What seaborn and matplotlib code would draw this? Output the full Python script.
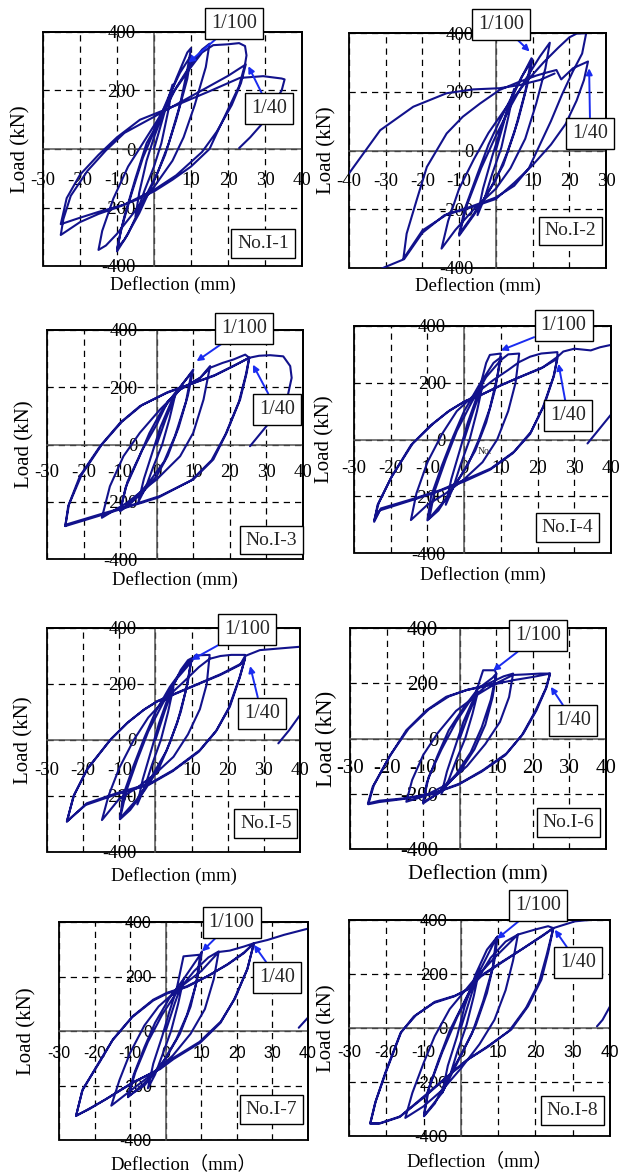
import matplotlib
matplotlib.use("Agg")
import matplotlib.pyplot as plt
import pandas as pd
import seaborn as sns

sns.set_theme(style="white")
plt.rcParams["font.family"] = ["Liberation Serif", "Noto Sans CJK JP", "DejaVu Sans"]
plt.rcParams["axes.unicode_minus"] = False

# ---------------- data (deflection mm, load kN) ----------------
Y_TICKS = [-400, -200, 0, 200, 400]
X_TICKS_A = [-30, -20, -10, 0, 10, 20, 30, 40]
X_TICKS_B = [-40, -30, -20, -10, 0, 10, 20, 30]

P1 = [(0,0),(2.5,110),(5,220),(4,140),(2,20),(0,-60),(-2.5,-140),(-5,-230),(-4,-150),(-2,-40),(0,40),
      (3,140),(6,240),(9,330),(10,345),(9,270),(7,150),(4,20),(1,-80),(-3,-180),(-7,-290),(-10,-350),(-9,-280),(-6,-150),(-3,-30),(0,60),
      (4,180),(7,260),(10,320),(9,240),(6,100),(3,-20),(0,-110),(-4,-220),(-8,-310),(-10,-340),(-8,-230),(-5,-100),(-2,20),
      (2,110),(6,210),(10,290),(13,340),(15,360),(14,280),(11,150),(8,40),(5,-40),(0,-130),(-5,-210),(-10,-290),(-13,-330),(-15,-345),(-14,-280),(-11,-170),(-7,-60),(-3,20),(1,100),
      (5,190),(10,280),(13,330),(16,355),(20,358),(23,362),(24.6,352),(25,320),(24.6,289),(23,215),(20,135),(17,55),(15,0),(10,-60),(5,-105),(0,-145),(-5,-175),(-10,-200),(-15,-222),(-20,-250),(-25.2,-294),
      (-24.5,-240),(-22.5,-160),(-18,-75),(-13,-5),(-8,55),(0,110),(10,180),(20,250),(24.8,289),
      (23.5,225),(21,150),(17,60),(13,-10),(6,-90),(0,-140),(-8,-190),(-15,-215),(-20,-235),(-25.2,-257),
      (-23.6,-168),(-20,-88),(-15,-20),(-10,40),(-3.8,100),(6.1,150),(15.1,198),(23.2,243),(29.5,249),(34.5,241),(35.3,238),(34.5,200),(32,150),(29,83),(26,40),(23,3)]

P2 = [(0,0),(2.5,110),(5,210),(3.5,120),(1.5,10),(-1,-80),(-3,-160),(-5,-220),(-3.5,-130),(-1,-20),(1,60),
      (4,170),(7,250),(10,310),(8.5,220),(6,100),(3,-10),(0,-100),(-4,-180),(-8,-250),(-10,-285),(-8.5,-200),(-5,-80),(-2,20),(1,100),
      (5,200),(9.7,314),(8,200),(5,60),(2,-50),(-2,-140),(-6,-220),(-10,-290),(-8,-190),(-4,-60),(0,50),
      (4,150),(8,240),(12,320),(14.7,367),(13.5,280),(11,160),(8,40),(4,-60),(0,-130),(-6,-200),(-11,-270),(-14.8,-334),(-13,-240),(-10,-130),(-6,-30),(-2,60),(3,150),
      (8,230),(13,300),(17,350),(20,385),(22,398),(24.6,399),(23.5,330),(21,270),(18,190),(15,100),(12,20),(9,-60),(5,-120),(0,-160),(-7,-192),(-13,-215),(-20,-272),(-25.2,-369),
      (-24.3,-283),(-21.6,-170),(-18.8,-56),(-13.4,58),(-9,115),(-4.3,160),(1,206),(6,232),(11,255),(14,266),(16.5,274),(17.8,242),(21,280),(25.1,303),
      (24,240),(22,170),(19,90),(15,20),(10,-50),(5,-110),(0,-165),(-7,-195),(-14,-220),(-20,-280),(-25,-370),(-30.2,-397),(-36,-430),(-42,-450),(-42,-100),
      (-40,-78),(-31.5,69),(-22.5,149),(-13.4,195),(-6.2,208),(1,212),(6.5,223),(12,240),(16,262)]

P3 = [(0,0),(2.5,90),(5,170),(3.5,90),(1.5,0),(-1,-80),(-3,-150),(-5,-200),(-3.5,-120),(-1,-20),(1,60),
      (4,150),(7,210),(10,262),(8.5,170),(6,60),(3,-40),(0,-110),(-4,-170),(-8,-215),(-10,-233),(-8.5,-150),(-5,-50),(-2,40),(1,110),
      (5,180),(9.5,250),(8,150),(5,30),(2,-60),(-2,-130),(-6,-190),(-10,-230),(-8,-130),(-4,-20),(0,70),
      (3,150),(6.4,192),(11.9,233),(14.6,274),(12.8,157),(10,41),(6.4,-41),(0,-122),(-8.2,-204),(-15,-256),(-12.8,-146),(-9.1,-41),(-4.6,41),(0.9,122),(6.4,192),(11.9,233),(14.6,268),
      (18,285),(21,297),(24.2,314),(25.3,303),(24.6,250),(22.8,157),(19.1,41),(15.5,-52),(10,-122),(0.9,-180),(-6.4,-210),(-15.5,-244),(-24.6,-279),(-25,-285),
      (-24.2,-215),(-21,-110),(-15.5,-6),(-10,76),(-4.6,134),(2.7,180),(8.2,206),(15.5,239),(21,274),(25.3,303),
      (24.3,240),(22.5,150),(18.8,35),(15,-55),(9.5,-125),(0.5,-185),(-7,-215),(-16,-250),(-25,-285),
      (-24,-210),(-20.5,-105),(-15,0),(-9.5,80),(-4,138),(3,183),(9,210),(16,243),(21.5,278),(25.3,303),(28,310),(31,312),(34.6,308),(36.5,274),(36.9,233),(35.6,157),(30,64),(25.5,-6)]

P4 = [(0,0),(2.5,100),(5,190),(3.5,100),(1.5,0),(-1,-90),(-3,-170),(-5,-230),(-3.5,-140),(-1,-30),(1,60),
      (4,170),(6,270),(7,298),(10,303),(9,220),(7,110),(4,0),(1,-90),(-3,-170),(-7,-250),(-10,-285),(-9,-200),(-6,-90),(-3,10),(0,100),(4,190),(8,270),(10,290),
      (8.5,180),(6,60),(3,-40),(-1,-130),(-5,-210),(-9.5,-278),(-8,-180),(-5,-70),(-2,30),(2,130),
      (6,220),(10,280),(12,300),(15,303),(14,200),(12,100),(9,0),(5,-80),(0,-140),(-5,-190),(-10,-230),(-14.5,-284),(-13,-190),(-10,-80),(-6,20),(-2,100),(3,160),(8,210),(12,245),(15,273),
      (18,292),(21,303),(25.4,308),(25.4,291),(24.5,226),(21.8,121),(18.2,27),(13.6,-43),(7.3,-102),(0,-143),(-6.4,-178),(-13.6,-208),(-22.7,-243),(-24.5,-290),
      (-23.6,-231),(-20,-137),(-14.5,-20),(-9.1,50),(-4.5,97),(0,133),(4.5,156),(10,191),(15.4,221),(20.9,250),(25.4,285),
      (24.3,220),(21.5,115),(18,20),(13.3,-48),(7,-107),(0,-148),(-7,-183),(-14,-213),(-23,-250),(-24.5,-285),
      (-23.3,-225),(-19.7,-130),(-14,-14),(-8.5,55),(-4,102),(0.5,137),(5,160),(10.5,194),(16,225),(21.5,255),(25.4,291),(27,310),(30,320),(34.5,314),(37,325),(40.2,334),(41,336)]
P4_TAIL = [(33.6,-14),(37,40),(40.2,91),(41,100)]

P5 = [(0,0),(2.5,100),(5,190),(3.5,100),(1.5,0),(-1,-90),(-3,-170),(-5,-230),(-3.5,-140),(-1,-30),(1,60),
      (4,170),(7,250),(9,285),(10,292),(9,210),(7,100),(4,-10),(1,-100),(-3,-180),(-7,-250),(-9.8,-283),(-9,-200),(-6,-90),(-3,10),(0,100),(4,190),(8,260),(10,290),
      (8.5,180),(6,60),(3,-40),(-1,-130),(-5,-210),(-9.8,-280),(-8,-180),(-5,-70),(-2,30),(2,130),
      (6,220),(10,280),(11,302),(15,304),(14.2,200),(12.3,110),(9,20),(5,-60),(0,-120),(-5,-170),(-10,-210),(-14.8,-286),(-13,-200),(-10,-100),(-6,0),(-2,80),(3,150),(8,210),(12,260),(15,290),
      (18,300),(21,304),(24.8,304),(24.8,292),(23.4,226),(20.6,119),(17,36),(12.3,-36),(5,-107),(-1.5,-155),(-10.7,-190),(-19,-226),(-24.5,-292),
      (-22.7,-202),(-19,-107),(-12.5,0),(-7.9,60),(-3.3,107),(0.4,137),(5.9,167),(12.3,202),(17.9,232),(23.4,268),(24.8,292),
      (23.2,220),(20.3,115),(16.7,30),(12,-42),(4.7,-112),(-1.8,-160),(-11,-195),(-19.3,-232),(-24.5,-290),
      (-22.5,-196),(-18.7,-100),(-12.2,5),(-7.5,64),(-3,110),(0.7,140),(6.2,170),(12.6,205),(18.2,236),(23.6,272),(24.8,300),(28.9,321),(34.4,327),(40,333),(41,334)]
P5_TAIL = [(34,-12),(37,35),(40,89),(41,100)]

P6 = [(0,0),(2.5,90),(5,170),(3.5,90),(1.5,0),(-1,-80),(-3,-150),(-5,-200),(-3.5,-120),(-1,-20),(1,60),
      (4,150),(6.4,247),(9.6,247),(10,235),(9,150),(7,50),(4,-40),(0,-120),(-5,-190),(-10,-235),(-9,-160),(-6,-60),(-3,30),(1,110),(5,180),(9,220),(10,235),
      (8.5,140),(6,40),(3,-50),(-1,-130),(-6,-200),(-10,-230),(-8.5,-140),(-5,-40),(-1,60),(3,140),
      (8,200),(12,225),(14.6,235),(13.5,150),(11,60),(7,-20),(2,-100),(-4,-170),(-10,-210),(-14.6,-229),(-13,-150),(-10,-60),(-6,20),(-1,100),(5,160),(10,200),(14.6,230),
      (18,232),(22,235),(24.7,235),(23.8,187),(21,102),(17.4,18),(12.8,-54),(6.4,-114),(0,-163),(-7.3,-199),(-15.5,-217),(-21.9,-225),(-25.1,-235),
      (-23.8,-175),(-19.2,-66),(-14.6,30),(-9.1,102),(-3.7,151),(1.8,175),(8.2,193),(14.6,211),(20.1,223),(24.7,235),
      (23.5,180),(20.5,95),(17,12),(12.5,-60),(6,-120),(-0.5,-168),(-8,-203),(-16,-220),(-22,-230),(-25,-238),
      (-23.5,-170),(-19,-60),(-14,35),(-8.5,105),(-3,152),(2,176),(8,195),(12,205)]

P7 = [(0,0),(2.5,100),(5,190),(3.5,100),(1.5,0),(-1,-90),(-3,-160),(-5,-210),(-3.5,-120),(-1,-20),(1,70),
      (3,150),(5,274),(9.7,280),(10.2,292),(9,200),(7,90),(4,-10),(0,-100),(-5,-180),(-10.6,-243),(-9,-160),(-6,-60),(-3,30),(1,120),(5,190),(9.7,280),
      (8.5,170),(6,60),(3,-30),(-1,-120),(-6,-200),(-10.6,-240),(-8.5,-150),(-5,-40),(-1,60),(3,140),
      (8,220),(12,270),(14.9,292),(13.5,190),(11,80),(7,-10),(2,-90),(-4,-160),(-10,-220),(-15.3,-274),(-13,-180),(-10,-80),(-6,20),(-2,90),(4,160),(10,220),(14.9,290),
      (18,295),(22,310),(24.8,322),(22.9,225),(19.2,115),(15.4,30),(9.7,-43),(2.2,-103),(-1.6,-140),(-9.2,-188),(-16.7,-249),(-21.4,-286),(-25.2,-310),
      (-23.3,-213),(-18.6,-115),(-14.8,-30),(-9.2,55),(-3.5,115),(0.3,140),(5.9,164),(11.6,200),(17.3,243),(22,286),(24.8,322),
      (23,230),(19.5,120),(15.5,35),(9.5,-40),(2,-100),(-2,-140),(-9.5,-192),(-17,-252),(-25.2,-312),
      (-23.5,-220),(-19,-120),(-15,-35),(-9.5,50),(-3.5,112),(0.5,138),(6,162),(12,203),(17.5,246),(22,288),(24.8,322),(28.6,334),(33.3,353),(40.4,377),(41,378)]
P7_TAIL = [(37.4,12),(40.4,55),(41,62)]

P8 = [(0,0),(2.5,110),(5,220),(3.5,120),(1.5,10),(-1,-90),(-3,-180),(-5,-240),(-3.5,-140),(-1,-30),(1,80),
      (4,200),(7,290),(9.5,333),(9.9,340),(9,250),(7,130),(4,10),(0,-100),(-4,-200),(-7,-280),(-9.9,-327),(-9,-240),(-6,-120),(-3,-10),(1,100),(5,210),(9.5,333),
      (8.5,220),(6,100),(3,-20),(-1,-130),(-5,-240),(-9.9,-325),(-8.5,-220),(-5,-90),(-1,40),(3,150),
      (8,260),(12,320),(15.3,346),(14,250),(12,140),(9,30),(5,-60),(0,-150),(-5,-230),(-10,-290),(-14.9,-333),(-13,-240),(-10,-130),(-7,-30),(-3,70),(3,170),(9,260),(15.3,346),
      (20,365),(23.4,377),(24.8,370),(23.4,278),(21.6,179),(18,80),(13.5,-6),(7.2,-68),(1.8,-117),(-3.6,-179),(-9.9,-253),(-16.2,-327),(-21.6,-352),(-24.3,-352),
      (-23,-278),(-20.3,-167),(-16.2,-19),(-12.6,43),(-7.2,93),(-1.8,117),(1.8,142),(5.4,191),(10.8,241),(16.2,290),(21.6,340),(24.8,370),
      (23,270),(21,170),(17.5,75),(13,-10),(7,-72),(1.5,-120),(-4,-185),(-10,-258),(-16.5,-330),(-22,-355),(-24.3,-355),
      (-22.8,-270),(-20,-160),(-16,-15),(-12,48),(-7,97),(-1.5,120),(2,145),(5.5,195),(11,245),(16.5,293),(22,342),(24.8,370),(30.6,395),(35.1,401),(41,405)]
P8_TAIL = [(36.5,6),(38,30),(40,80),(41,95)]

NAMES = ["No.I-1", "No.I-2", "No.I-3", "No.I-4", "No.I-5", "No.I-6", "No.I-7", "No.I-8"]

# ---------------- layout / style ----------------
CURVE = "#12128c"
ARROW = "#1a2cf0"
FIG_W, FIG_H = 626, 1174

# axes boxes in pixels: left, top, right, bottom
BOXES = [(43, 32, 302, 266), (349, 33, 606, 268), (47, 330, 303, 559), (354, 326, 611, 553),
         (47, 628, 300, 852), (350, 628, 606, 849), (59, 922, 308, 1140), (349, 920, 610, 1136)]

PANELS = [
    dict(path=P1, tail=None, xt=X_TICKS_A, ylab=-0.048, xlab=-0.045, xpad=16.5, ypad=13.5, xfs=13.5, yfs=15, tfs=13.5,
         a100=((9.3, 295), (21.6, 429)), a40=((25.5, 283), (31.2, 138)), nob=(29.5, -322)),
    dict(path=P2, tail=None, xt=X_TICKS_B, ylab=-0.05, xlab=-0.04, xpad=16, ypad=16, xfs=13.5, yfs=15, tfs=13.5,
         a100=((9.2, 337), (1.5, 430)), a40=((25.4, 280), (25.7, 58)), nob=(20.3, -274)),
    dict(path=P3, tail=None, xt=X_TICKS_A, ylab=-0.05, xlab=-0.052, xpad=14, ypad=14, xfs=13.5, yfs=15, tfs=13.5,
         a100=((10.9, 291), (23.9, 406)), a40=((26.3, 279), (32.8, 122)), nob=(31.4, -334)),
    dict(path=P4, tail=P4_TAIL, xt=X_TICKS_A, ylab=-0.074, xlab=-0.056, xpad=14.5, ypad=13, xfs=13.5, yfs=15, tfs=13.5,
         a100=((10.0, 314), (27.1, 402)), a40=((25.7, 267), (28.3, 83)), nob=(28.2, -311)),
    dict(path=P5, tail=P5_TAIL, xt=X_TICKS_A, ylab=-0.055, xlab=-0.067, xpad=16, ypad=13.5, xfs=13.5, yfs=15, tfs=13.5,
         a100=((10.0, 286), (25.4, 396)), a40=((26.2, 264), (29.4, 95)), nob=(30.5, -298)),
    dict(path=P6, tail=None, xt=X_TICKS_A, ylab=-0.05, xlab=-0.074, xpad=15, ypad=15.5, xfs=15, yfs=16.5, tfs=15,
         a100=((9.1, 245), (21.5, 372)), a40=((24.9, 187), (31.1, 64)), nob=(29.7, -304)),
    dict(path=P7, tail=P7_TAIL, xt=X_TICKS_A, ylab=-0.09, xlab=-0.07, xpad=10.5, ypad=10, xfs=13.5, yfs=15, tfs=11.5,
         a100=((10.2, 292), (18.5, 399)), a40=((24.8, 316), (31.4, 195)), nob=(29.7, -288)),
    dict(path=P8, tail=P8_TAIL, xt=X_TICKS_A, ylab=-0.047, xlab=-0.078, xpad=12.5, ypad=9.5, xfs=13.5, yfs=15, tfs=12,
         a100=((9.7, 330), (20.7, 454)), a40=((25.2, 364), (31.4, 241)), nob=(29.9, -305)),
]

fig = plt.figure(figsize=(FIG_W / 100, FIG_H / 100), dpi=100)

for i, (cfg, box) in enumerate(zip(PANELS, BOXES)):
    l, t, r, b = box
    ax = fig.add_axes([l / FIG_W, 1 - b / FIG_H, (r - l) / FIG_W, (b - t) / FIG_H])
    df = pd.DataFrame(cfg["path"], columns=["Deflection", "Load"])
    sns.lineplot(data=df, x="Deflection", y="Load", sort=False, estimator=None,
                 color=CURVE, lw=1.5, ax=ax, zorder=2)
    if cfg["tail"] is not None:
        dt = pd.DataFrame(cfg["tail"], columns=["Deflection", "Load"])
        sns.lineplot(data=dt, x="Deflection", y="Load", sort=False, estimator=None,
                     color=CURVE, lw=1.5, ax=ax, zorder=2)

    xt = cfg["xt"]
    ax.set_xlim(xt[0], xt[-1])
    ax.set_ylim(-400, 400)
    ax.set_xticks(xt)
    ax.set_yticks(Y_TICKS)

    ax.grid(True, color="black", linestyle=(0, (5, 4)), linewidth=0.9)
    ax.set_axisbelow(True)

    for s in ("left", "bottom"):
        ax.spines[s].set_position(("data", 0))
        ax.spines[s].set_color("#555555")
        ax.spines[s].set_linewidth(1.1)
        ax.spines[s].set_zorder(1.5)
    for s in ("top", "right"):
        ax.spines[s].set_color("black")
        ax.spines[s].set_linewidth(1.3)
    ax.patch.set_edgecolor("black")
    ax.patch.set_linewidth(1.3)

    ax.tick_params(axis="both", length=0, labelsize=cfg["tfs"], colors="black")
    ax.tick_params(axis="x", pad=cfg["xpad"])
    ax.tick_params(axis="y", pad=cfg["ypad"])
    if i >= 6:
        for lab in ax.get_xticklabels() + ax.get_yticklabels():
            lab.set_family(["Liberation Sans"])
        xl = "Deflection（mm）"
    else:
        xl = "Deflection (mm)"

    ax.set_xlabel(xl, fontsize=cfg["xfs"], color="black")
    ax.set_ylabel("Load (kN)", fontsize=cfg["yfs"], color="black")
    ax.xaxis.set_label_coords(0.5, cfg["xlab"])
    ax.yaxis.set_label_coords(cfg["ylab"], 0.5)

    bbox = dict(boxstyle="square,pad=0.3", fc="white", ec="black", lw=1.0)
    arrow = dict(arrowstyle="-|>", color=ARROW, lw=1.4, mutation_scale=9, shrinkA=0, shrinkB=0)
    for txt, key in (("1/100", "a100"), ("1/40", "a40")):
        tip, pos = cfg[key]
        ax.annotate(txt, xy=tip, xytext=pos, textcoords="data", ha="center", va="center",
                    fontsize=14.5, bbox=bbox, arrowprops=arrow, annotation_clip=False, zorder=5)
    ax.text(cfg["nob"][0], cfg["nob"][1], NAMES[i], ha="center", va="center", fontsize=14,
            bbox=dict(boxstyle="square,pad=0.3", fc="white", ec="black", lw=1.0), zorder=5)
    if i == 3:
        ax.text(5.7, -42, "No.", fontsize=7, ha="center", va="center", zorder=4)

fig.savefig("out.png", dpi=100)
